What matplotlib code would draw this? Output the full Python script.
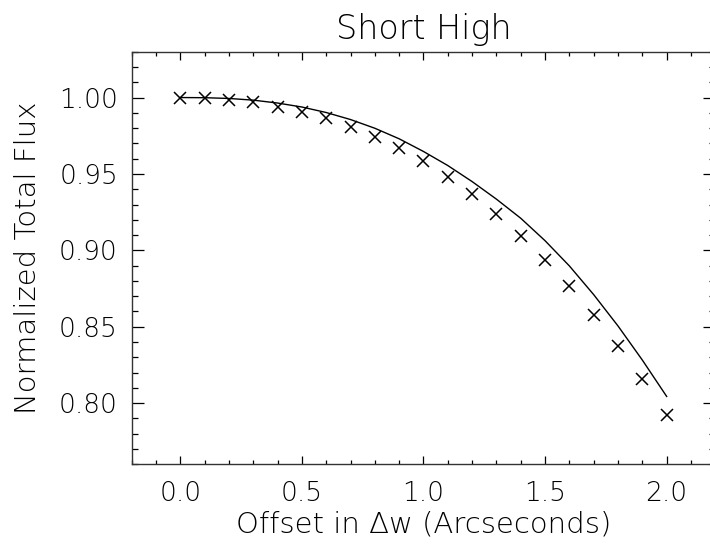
import matplotlib
matplotlib.use("Agg")
import matplotlib.pyplot as plt
from matplotlib.ticker import MultipleLocator, FormatStrFormatter

# Offsets (arcsec) at which the aperture flux was measured
offset = [0.0, 0.1, 0.2, 0.3, 0.4, 0.5, 0.6, 0.7, 0.8, 0.9, 1.0,
          1.1, 1.2, 1.3, 1.4, 1.5, 1.6, 1.7, 1.8, 1.9, 2.0]

# Measured normalized total flux (crosses)
flux_measured = [1.0000, 0.9994, 0.9985, 0.9969, 0.9941, 0.9905, 0.9864,
                 0.9806, 0.9745, 0.9671, 0.9582, 0.9479, 0.9366, 0.9237,
                 0.9095, 0.8936, 0.8766, 0.8574, 0.8371, 0.8156, 0.7922]

# Model curve (solid line)
flux_model = [1.0000, 0.9999, 0.9994, 0.9983, 0.9964, 0.9938, 0.9902,
              0.9856, 0.9799, 0.9730, 0.9647, 0.9555, 0.9450, 0.9335,
              0.9210, 0.9063, 0.8898, 0.8710, 0.8505, 0.8282, 0.8044]

x_ticks = [0.0, 0.5, 1.0, 1.5, 2.0]
y_ticks = [0.80, 0.85, 0.90, 0.95, 1.00]

plt.rcParams["font.family"] = ["DejaVu Sans"]
plt.rcParams["font.weight"] = 200
plt.rcParams["axes.titleweight"] = 200
plt.rcParams["axes.labelweight"] = 200
plt.rcParams["text.color"] = "black"

W, H = 710, 554
fig = plt.figure(figsize=(W / 100, H / 100), dpi=100)
left, right, top, bottom = 131.7, 715.3, 51.7, 464.3
ax = fig.add_axes([left / W, 1 - bottom / H, (right - left) / W, (bottom - top) / H])

ax.plot(offset, flux_model, color="black", lw=1.0)
ax.plot(offset, flux_measured, linestyle="none", marker="x", color="black",
        markersize=8, markeredgewidth=1.1)

ax.set_xlim(-0.2, 2.2)
ax.set_ylim(0.76, 1.03)
ax.set_xticks(x_ticks)
ax.set_yticks(y_ticks)
ax.xaxis.set_minor_locator(MultipleLocator(0.1))
ax.yaxis.set_minor_locator(MultipleLocator(0.01))
ax.xaxis.set_major_formatter(FormatStrFormatter("%.1f"))
ax.yaxis.set_major_formatter(FormatStrFormatter("%.2f"))

ax.tick_params(axis="x", which="major", direction="in", length=5.9, width=0.9,
               top=True, bottom=True, labelsize=19, pad=12, colors="black")
ax.tick_params(axis="x", which="minor", direction="in", length=2.9, width=0.9,
               top=True, bottom=True)
ax.tick_params(axis="y", which="major", direction="in", length=8.4, width=0.9,
               left=True, right=True, labelsize=19, pad=10, colors="black")
ax.tick_params(axis="y", which="minor", direction="in", length=4.1, width=0.9,
               left=True, right=True)

for s in ax.spines.values():
    s.set_linewidth(1.0)
    s.set_color("#333333")

ax.set_title("Short High", fontsize=24, pad=9, fontweight=200)
ax.set_xlabel("Offset in \u0394w (Arcseconds)", fontsize=21, labelpad=3,
              fontweight=200)
ax.set_ylabel("Normalized Total Flux", fontsize=21, fontweight=200)
ax.yaxis.set_label_coords((42 - left) / (right - left), 0.5)

fig.savefig("out.png", dpi=100)
